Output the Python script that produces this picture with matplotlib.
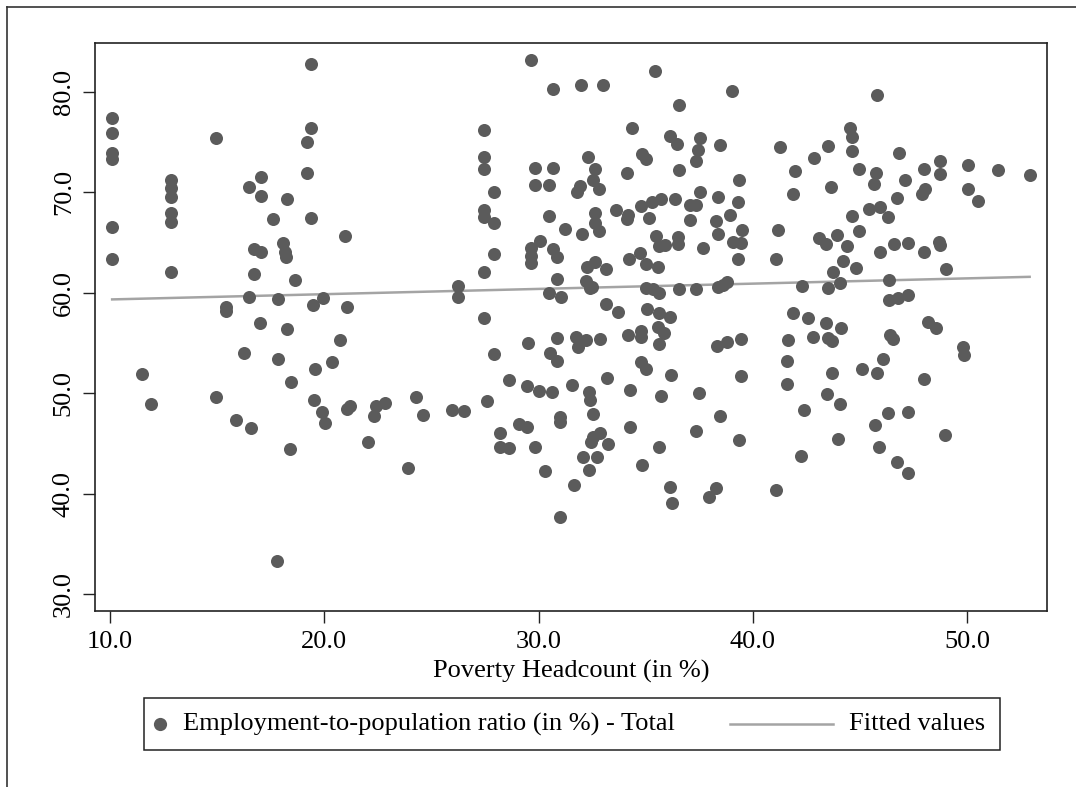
import numpy as np
import matplotlib
matplotlib.use("Agg")
import matplotlib.pyplot as plt
from matplotlib.lines import Line2D
from matplotlib.patches import Rectangle

plt.rcParams['font.family'] = ['Liberation Serif', 'DejaVu Serif']

# Poverty headcount (in %) and employment-to-population ratio (in %)
poverty = [
    10.1, 10.1, 10.1, 10.1, 10.1, 10.1,
    12.85, 12.85, 12.85, 12.85, 12.85, 12.85,
    14.94, 16.49, 17.05, 17.05, 18.26, 17.62,
    19.37, 19.37, 19.18, 19.18, 19.37, 20.97,
    16.73, 17.05, 18.08, 18.16, 18.2, 16.73,
    18.63, 16.49, 17.86, 19.92, 19.49, 21.05,
    15.4, 15.4, 17.01, 18.26, 20.74,
    16.26, 17.86, 20.34, 19.58, 11.48, 18.45, 11.89, 14.94, 15.9, 16.59, 18.4, 19.54,
    19.89, 20.03, 21.05, 21.2, 22.03, 22.39, 22.85, 22.34, 23.9, 24.3, 24.6, 17.79,
    29.66, 30.67, 31.96, 32.98, 35.42, 39.0, 36.54, 34.36, 27.43, 27.43, 27.43, 27.94,
    27.43, 27.43, 27.94, 27.94, 27.43, 26.23, 26.23, 27.43,
    29.81, 30.67, 29.81, 30.48, 32.3, 32.65, 32.54, 32.8, 31.95, 31.8, 34.1, 34.8,
    35.0, 36.12, 36.46, 37.52, 37.44, 37.33, 38.46, 36.54, 39.35,
    30.48, 31.21, 32.04, 32.65, 32.65, 32.82, 33.63, 34.17, 34.12, 34.77, 35.31, 35.69,
    35.13, 36.36, 37.52, 37.08, 37.33, 37.08, 38.38, 39.32, 38.27, 38.92, 38.38, 39.47,
    39.08, 39.42, 39.31,
    35.47, 35.89, 35.62, 36.51, 36.51, 37.68, 30.05, 29.63, 29.63, 29.63, 30.67, 30.86,
    34.22, 34.75, 35.0, 35.55, 32.27, 32.62, 33.16, 30.86, 32.23, 32.51, 30.48, 31.06,
    32.38, 35.02, 35.33, 35.61, 36.54, 37.33, 38.38, 38.77, 38.58,
    33.13, 33.68, 35.07, 35.62, 36.15, 35.55, 35.86, 34.18, 34.76, 34.76, 30.86, 31.73,
    32.23, 32.85, 29.5, 38.78, 39.45, 35.63,
    31.84, 38.3, 27.9, 30.51, 30.87, 34.76, 34.99, 36.17, 39.44, 28.6, 29.45, 30.01,
    30.62, 31.56, 32.35, 32.41, 33.21, 34.25, 35.73, 37.48, 27.59, 25.95, 26.54, 28.18,
    29.07, 29.45, 28.18, 28.62, 29.81, 31.01, 31.01, 32.54, 32.85, 32.54, 32.46, 33.24,
    32.07, 32.74, 32.35, 30.28, 31.64, 30.98, 34.25, 35.62, 34.83, 36.15, 36.23, 37.34,
    38.46, 39.33, 38.26, 37.95,
    45.81, 44.53, 44.64, 44.64, 41.26, 43.49, 42.87, 46.82, 41.96, 44.97, 45.73, 45.65,
    47.1, 47.99, 48.74, 48.74, 50.03, 51.42, 52.91, 43.64, 41.85, 48.03, 47.87, 50.03,
    50.5, 46.71, 45.42, 45.93, 46.29, 44.64, 44.97, 41.15, 43.08, 43.41, 43.91, 44.38,
    45.93, 46.6, 47.23, 47.99, 48.69, 48.74, 41.07, 44.19, 44.8, 43.72, 44.06, 43.49,
    42.3, 46.36, 49.0, 46.36, 46.76, 47.23, 41.89, 42.59, 43.41, 44.11, 48.16, 48.55,
    41.65, 42.79, 43.49, 43.68, 46.4, 46.55, 49.8, 49.86, 41.6, 43.71, 45.08, 45.81,
    46.09, 47.99, 41.6, 43.47, 44.07, 42.38, 46.29, 47.23, 45.7, 48.94, 43.96, 45.89,
    42.24, 46.71, 47.23, 41.06,
]
employment = [
    77.35, 75.86, 73.87, 73.27, 66.57, 63.32,
    71.21, 70.39, 69.49, 67.96, 67.07, 62.03,
    75.43, 70.49, 71.54, 69.62, 69.35, 67.33,
    82.73, 76.36, 75.03, 71.88, 67.46, 65.64,
    64.32, 64.02, 64.98, 64.08, 63.52, 61.86,
    61.26, 59.54, 59.37, 59.44, 58.78, 58.61,
    58.61, 58.21, 57.01, 56.36, 55.3,
    54.03, 53.37, 53.13, 52.41, 51.91, 51.14, 48.89, 49.59, 47.33, 46.57, 44.42, 49.32,
    48.16, 47.06, 48.43, 48.73, 45.11, 48.73, 49.05, 47.73, 42.53, 49.6, 47.83, 33.33,
    83.15, 80.27, 80.67, 80.67, 82.04, 80.1, 78.68, 76.44, 76.24, 73.53, 72.28, 69.99,
    68.28, 67.56, 66.9, 63.83, 62.03, 60.7, 59.54, 57.45,
    72.44, 72.44, 70.69, 70.69, 73.46, 72.28, 71.26, 70.37, 70.63, 70.03, 71.94, 73.85,
    73.26, 75.59, 74.77, 75.42, 74.2, 73.1, 74.7, 72.19, 71.19,
    67.61, 66.32, 65.82, 67.98, 66.98, 66.15, 68.22, 67.73, 67.3, 68.66, 69.06, 69.3,
    67.4, 69.3, 69.99, 68.73, 68.73, 67.21, 69.55, 69.06, 67.14, 67.73, 65.82, 66.22,
    65.07, 64.9, 63.33,
    65.63, 64.74, 64.64, 65.57, 64.8, 64.42, 65.17, 64.42, 63.63, 62.93, 64.32, 63.52,
    63.33, 63.92, 62.84, 62.57, 62.57, 63.08, 62.33, 61.33, 61.19, 60.54, 60.0, 59.6,
    60.43, 60.43, 60.34, 59.94, 60.34, 60.34, 60.6, 61.03, 60.76,
    58.85, 58.06, 58.36, 58.03, 57.56, 56.63, 55.97, 55.8, 56.24, 55.58, 55.48, 55.64,
    55.3, 55.37, 54.97, 55.14, 55.37, 54.9,
    54.57, 54.7, 53.9, 53.97, 53.23, 53.13, 52.38, 51.81, 51.71, 51.31, 50.72, 50.22,
    50.09, 50.82, 50.09, 49.32, 51.48, 50.32, 49.72, 50.05, 49.25, 48.33, 48.26, 46.07,
    46.9, 46.67, 44.62, 44.52, 44.62, 47.6, 47.16, 47.93, 46.07, 45.61, 45.17, 44.94,
    43.68, 43.62, 42.36, 42.26, 40.87, 37.71, 46.67, 44.62, 42.86, 40.64, 39.04, 46.27,
    47.73, 45.34, 40.54, 39.7,
    79.63, 76.36, 75.52, 74.11, 74.51, 74.6, 73.37, 73.93, 72.12, 72.31, 71.88, 70.82,
    71.26, 72.35, 73.15, 71.79, 72.69, 72.19, 71.69, 70.55, 69.8, 70.37, 69.8, 70.37,
    69.16, 69.47, 68.38, 68.54, 67.56, 67.63, 66.12, 66.29, 65.49, 64.83, 65.72, 64.68,
    64.06, 64.83, 64.9, 64.06, 65.0, 64.73, 63.35, 63.18, 62.43, 62.03, 60.93, 60.43,
    60.66, 61.24, 62.33, 59.25, 59.44, 59.77, 58.03, 57.45, 56.95, 56.45, 57.11, 56.45,
    55.29, 55.62, 55.46, 55.22, 55.8, 55.4, 54.57, 53.8, 53.23, 51.98, 52.41, 52.04,
    53.37, 51.38, 50.89, 49.92, 48.93, 48.33, 48.0, 48.1, 46.84, 45.84, 45.41, 44.68,
    43.78, 43.18, 42.03, 40.37,
]

x_ticks = [10, 20, 30, 40, 50]
y_ticks = [30, 40, 50, 60, 70, 80]
x_label = 'Poverty Headcount (in %)'
series_label = 'Employment-to-population ratio (in %) - Total'
fit_label = 'Fitted values'

W, H = 1076, 787
dot_col = '#5b5b5b'
fit_col = '#a4a4a4'
fs = 19


def fx(px):
    return px / W


def fy(py):
    return 1 - py / H


fig = plt.figure(figsize=(W / 100, H / 100), dpi=100)
ax = fig.add_axes([fx(95), fy(611), (1047 - 95) / W, (611 - 43) / H])

px_arr = np.array(poverty)
py_arr = np.array(employment)
ax.scatter(px_arr, py_arr, s=88, color=dot_col, linewidths=0, zorder=3)

# linear fit over the data range, like Stata's lfit
b, a = np.polyfit(px_arr, py_arr, 1)
xf = np.array([px_arr.min(), px_arr.max()])
ax.plot(xf, a + b * xf, color=fit_col, lw=1.8, zorder=2)

ax.set_xlim(9.30, 53.72)
ax.set_ylim(28.33, 84.85)
ax.set_xticks(x_ticks)
ax.set_xticklabels([f'{t:.1f}' for t in x_ticks])
ax.set_yticks(y_ticks)
ax.set_yticklabels([f'{t:.1f}' for t in y_ticks], rotation=90, va='center')
ax.tick_params(axis='both', length=8.5, width=1, labelsize=fs, direction='out', color='#222222')
ax.tick_params(axis='x', pad=6)
ax.tick_params(axis='y', pad=6)
ax.set_xlabel(x_label, fontsize=fs, labelpad=5)
for sp in ax.spines.values():
    sp.set_linewidth(1.2)
    sp.set_color('#222222')

# outer graph-region border (only top and left visible in the frame)
fig.add_artist(Line2D([fx(7), 1.0], [fy(7), fy(7)], transform=fig.transFigure,
                      color='#333333', lw=1.2))
fig.add_artist(Line2D([fx(7), fx(7)], [fy(7), 0.0], transform=fig.transFigure,
                      color='#333333', lw=1.2))

# legend box below the plot
fig.add_artist(Rectangle((fx(144), fy(750)), (1000 - 144) / W, (750 - 698) / H,
                         transform=fig.transFigure, fill=False, edgecolor='#222222', lw=1.1))
fig.add_artist(Line2D([fx(160)], [fy(724)], transform=fig.transFigure, marker='o',
                      markersize=9.5, color=dot_col, markeredgewidth=0, linestyle='none'))
fig.text(fx(183), fy(724), series_label, fontsize=fs, va='center', ha='left')
fig.add_artist(Line2D([fx(730), fx(833)], [fy(724), fy(724)], transform=fig.transFigure,
                      color=fit_col, lw=1.8))
fig.text(fx(849), fy(724), fit_label, fontsize=fs, va='center', ha='left')

fig.savefig('out.png', dpi=100, facecolor='white')
